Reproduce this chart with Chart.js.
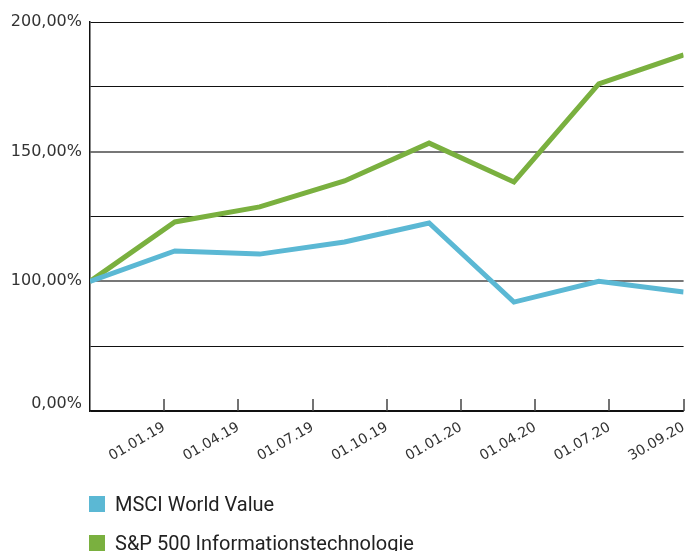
<!DOCTYPE html>
<html lang="de">
<head>
    <meta charset="UTF-8">
    <title>MSCI World Value vs. S&amp;P 500 Informationstechnologie</title>
    <script src="https://cdn.jsdelivr.net/npm/chart.js"></script>
</head>
<body>
    <div class="wrap">
        <canvas id="perfChart" width="692" height="551"></canvas>
        <div id="legend"></div>
    </div>

<script>
    // positions of the data points on the time axis (months since 01.10.18)
    const pointMonths = [0, 3.43, 6.86, 10.29, 13.71, 17.14, 20.57, 24];
    const msciWorldValue = [100, 111.7, 110.5, 115.2, 122.5, 92.0, 100.0, 95.9];
    const spInfoTech = [100, 122.9, 128.7, 138.7, 153.3, 138.3, 176.1, 187.3];

    const dateTickMonths = [3, 6, 9, 12, 15, 18, 21, 24];
    const dateTickLabels = ["01.01.19", "01.04.19", "01.07.19", "01.10.19", "01.01.20", "01.04.20", "01.07.20", "30.09.20"];

    const yGridValues = [50, 75, 100, 125, 150, 175, 200];
    const yTickValues = [50, 100, 150, 200];
    const yTickLabels = ["0,00%", "100,00%", "150,00%", "200,00%"];

    const seriesNames = ["MSCI World Value", "S&P 500 Informationstechnologie"];
    const seriesColors = ["#5bb8d4", "#7ab03f"];

    // small tick marks pointing up from the x axis
    const innerTicks = {
        id: "innerTicks",
        beforeDatasetsDraw(chart) {
            const xScale = chart.scales.x;
            const ctx = chart.ctx;
            const bottom = chart.chartArea.bottom;
            ctx.save();
            ctx.strokeStyle = "#444";
            ctx.lineWidth = 1.5;
            dateTickMonths.forEach(m => {
                const px = Math.round(xScale.getPixelForValue(m));
                ctx.beginPath();
                ctx.moveTo(px, bottom - 12);
                ctx.lineTo(px, bottom);
                ctx.stroke();
            });
            ctx.restore();
        }
    };

    const series = [msciWorldValue, spInfoTech];

    new Chart(document.getElementById("perfChart"), {
        type: "line",
        data: {
            datasets: series.map((values, i) => ({
                label: seriesNames[i],
                data: values.map((v, k) => ({ x: pointMonths[k], y: v })),
                borderColor: seriesColors[i],
                backgroundColor: seriesColors[i],
                borderWidth: 5,
                pointRadius: 0,
                tension: 0,
                fill: false
            }))
        },
        options: {
            responsive: false,
            animation: false,
            layout: { padding: { top: 22, right: 2, bottom: 80, left: 0 } },
            plugins: {
                legend: { display: false },
                tooltip: { enabled: false }
            },
            scales: {
                x: {
                    type: "linear",
                    min: 0,
                    max: 24,
                    afterBuildTicks: scale => {
                        scale.ticks = dateTickMonths.map(v => ({ value: v }));
                    },
                    afterFit: scale => { scale.height = 60; },
                    grid: { display: false },
                    border: { display: true, color: "#111", width: 1.5 },
                    ticks: {
                        autoSkip: false,
                        minRotation: 30,
                        maxRotation: 30,
                        padding: 0,
                        color: "#333",
                        font: { family: "DejaVu Sans", size: 14 },
                        callback: value => dateTickLabels[dateTickMonths.indexOf(value)]
                    }
                },
                y: {
                    min: 50,
                    max: 200,
                    afterBuildTicks: scale => {
                        scale.ticks = yGridValues.map(v => ({ value: v }));
                    },
                    afterFit: scale => { scale.width = 90; },
                    grid: {
                        drawTicks: false,
                        color: c => (c.tick && (c.tick.value === 100 || c.tick.value === 150)) ? "#777" : "#111",
                        lineWidth: c => (c.tick && (c.tick.value === 100 || c.tick.value === 150)) ? 2 : 1
                    },
                    border: { display: true, color: "#111", width: 1.5 },
                    ticks: {
                        padding: 8,
                        color: "#333",
                        // the bottom label sits a little above the axis line
                        font: c => ({
                            family: "DejaVu Sans",
                            size: 16,
                            lineHeight: (c.tick && c.tick.value === 50) ? 0.9 : 1.2
                        }),
                        callback: value => {
                            const i = yTickValues.indexOf(value);
                            if (i < 0) return "";
                            return value === 50 ? [yTickLabels[i], ""] : yTickLabels[i];
                        }
                    }
                }
            }
        },
        plugins: [innerTicks]
    });

    // legend as two stacked rows below the chart
    let legendHTML = "";
    seriesNames.forEach((name, i) => {
        legendHTML += '<div class="item"><span class="box" style="background:' + seriesColors[i] + '"></span>' +
            name.replace("&", "&amp;") + '</div>';
    });
    document.getElementById("legend").innerHTML = legendHTML;
</script>

<style>
    body {
        margin: 0;
        background: #fff;
    }

    .wrap {
        position: relative;
        width: 692px;
        height: 551px;
        overflow: hidden;
    }

    #perfChart {
        display: block;
    }

    #legend {
        position: absolute;
        left: 89px;
        top: 490px;
        font-family: Roboto, sans-serif;
        font-size: 20px;
        color: #222;
    }

    #legend .item {
        display: flex;
        align-items: center;
        height: 28px;
        margin-bottom: 11px;
    }

    #legend .box {
        display: inline-block;
        width: 16px;
        height: 16px;
        margin-right: 10px;
    }
</style>
</body>
</html>
